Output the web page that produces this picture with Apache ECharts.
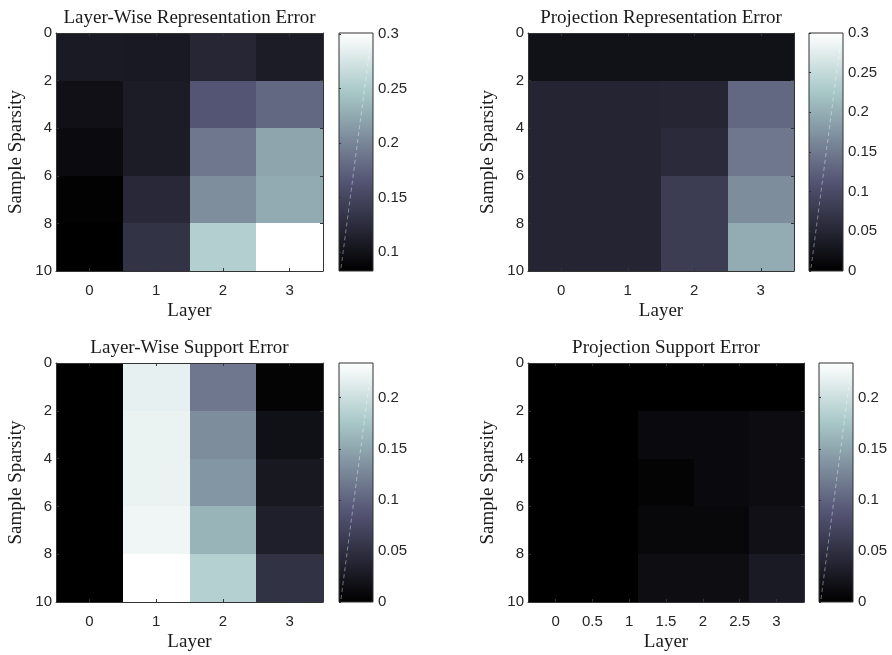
<!DOCTYPE html>
<html><head><meta charset="utf-8">
<script src="https://cdn.jsdelivr.net/npm/echarts@6/dist/echarts.min.js"></script>
<style>html,body{margin:0;padding:0;background:#fff}#c{width:892px;height:655px}</style>
</head><body><div id="c"></div>
<script>
// ---- data ----
const layers = [0, 1, 2, 3];
const projSupportLayers = [0, 0.75, 1.5, 2.25, 3];
const sparsity = [1, 3, 5, 7, 9];
const sparsityTicks = [0, 2, 4, 6, 8, 10];
const layerTicks = [0, 1, 2, 3];
const projSupportLayerTicks = [0, 0.5, 1, 1.5, 2, 2.5, 3];

const layerWiseRepErr = [
  [0.108, 0.107, 0.120, 0.110],
  [0.098, 0.110, 0.165, 0.179],
  [0.093, 0.110, 0.190, 0.222],
  [0.085, 0.122, 0.206, 0.226],
  [0.083, 0.132, 0.254, 0.301]
];
const projectionRepErr = [
  [0.023, 0.023, 0.023, 0.023],
  [0.048, 0.048, 0.050, 0.132],
  [0.048, 0.048, 0.056, 0.147],
  [0.048, 0.048, 0.081, 0.168],
  [0.048, 0.048, 0.081, 0.198]
];
const layerWiseSupErr = [
  [0, 0.218, 0.115, 0.004],
  [0, 0.220, 0.131, 0.017],
  [0, 0.220, 0.138, 0.025],
  [0, 0.224, 0.161, 0.032],
  [0, 0.234, 0.185, 0.052]
];
const projectionSupErr = [
  [0, 0, 0.0005, 0.0005, 0.0005],
  [0, 0, 0.0105, 0.0105, 0.0126],
  [0, 0, 0.0040, 0.0105, 0.0126],
  [0, 0, 0.0084, 0.0084, 0.0168],
  [0, 0, 0.0136, 0.0136, 0.0270]
];
const colorLimits = [[0.0828, 0.301], [0, 0.3], [0, 0.234], [0, 0.234]];
const colorbarTicks = [
  [0.1, 0.15, 0.2, 0.25, 0.3],
  [0, 0.05, 0.1, 0.15, 0.2, 0.25, 0.3],
  [0, 0.05, 0.1, 0.15, 0.2],
  [0, 0.05, 0.1, 0.15, 0.2]
];
const titles = ['Layer-Wise Representation Error', 'Projection Representation Error',
                'Layer-Wise Support Error', 'Projection Support Error'];
const xLabel = 'Layer';
const yLabel = 'Sample Sparsity';

// ---- styles / layout ----
const bone = ['#000000', '#1c1c27', '#38384d', '#545474', '#707a8f', '#8ba1ab', '#a7c7c7', '#d3e3e3', '#ffffff'];
const layout = [
  { grid: { left: 56, top: 33, width: 267, height: 238 }, cb: { left: 339, top: 33, width: 34, height: 238 }, titleTop: 9 },
  { grid: { left: 528, top: 33, width: 266, height: 238 }, cb: { left: 809, top: 33, width: 34, height: 238 }, titleTop: 9 },
  { grid: { left: 56, top: 363, width: 267, height: 239 }, cb: { left: 339, top: 363, width: 34, height: 239 }, titleTop: 339 },
  { grid: { left: 528, top: 363, width: 276, height: 239 }, cb: { left: 819, top: 363, width: 34, height: 239 }, titleTop: 339 }
];
const panels = [
  { xs: layers, xt: layerTicks, vals: layerWiseRepErr },
  { xs: layers, xt: layerTicks, vals: projectionRepErr },
  { xs: layers, xt: layerTicks, vals: layerWiseSupErr },
  { xs: projSupportLayers, xt: projSupportLayerTicks, vals: projectionSupErr }
];

const axisColor = '#333333';
const labelFont = { fontFamily: 'Liberation Sans, Arial, sans-serif', fontSize: 15, color: '#262626' };
const serifFont = { fontFamily: 'Liberation Serif, Times New Roman, serif', fontSize: 19, color: '#1a1a1a' };

function cellRenderer(dx, dy) {
  return function (params, api) {
    const x = api.value(0), y = api.value(1);
    const p0 = api.coord([x - dx / 2, y - dy / 2]);
    const p1 = api.coord([x + dx / 2, y + dy / 2]);
    const x0 = Math.round(Math.min(p0[0], p1[0])), x1 = Math.round(Math.max(p0[0], p1[0]));
    const y0 = Math.round(Math.min(p0[1], p1[1])), y1 = Math.round(Math.max(p0[1], p1[1]));
    return { type: 'rect', shape: { x: x0, y: y0, width: x1 - x0, height: y1 - y0 },
             style: { fill: api.visual('color') } };
  };
}
function colorbarRenderer(params, api) {
  const lo = api.value(0), hi = api.value(1);
  const pTop = api.coord([0, hi]);
  const pBot = api.coord([1, lo]);
  const x = pTop[0], y = pTop[1], w = pBot[0] - pTop[0], h = pBot[1] - pTop[1];
  return { type: 'group', children: [
    { type: 'rect', shape: { x, y, width: w, height: h },
      style: { fill: { type: 'linear', x: 0, y: 1, x2: 0, y2: 0,
        colorStops: bone.map((c, i) => ({ offset: i / (bone.length - 1), color: c })) } } },
    { type: 'line', shape: { x1: x + 2, y1: y + h - 3, x2: x + w - 3, y2: y + h * 0.06 },
      style: { stroke: 'rgba(255,255,255,0.4)', lineWidth: 1, lineDash: [4, 3] } },
    { type: 'rect', shape: { x, y, width: w, height: h },
      style: { fill: null, stroke: axisColor, lineWidth: 1 } }
  ] };
}

const grid = [], xAxis = [], yAxis = [], series = [], visualMap = [], title = [];
panels.forEach((p, i) => {
  const L = layout[i];
  const dx = p.xs[1] - p.xs[0];
  const dy = sparsity[1] - sparsity[0];
  const xmin = p.xs[0] - dx / 2, xmax = p.xs[p.xs.length - 1] + dx / 2;
  const gi = grid.length;
  grid.push(L.grid);
  const cbGi = grid.length;
  grid.push(L.cb);

  title.push({ text: titles[i], left: L.grid.left + L.grid.width / 2, top: L.titleTop, textAlign: 'center', padding: 0,
               textStyle: Object.assign({ fontWeight: 'normal' }, serifFont) });

  const common = { type: 'value', gridIndex: gi, z: 10,
    axisLine: { show: true, onZero: false, lineStyle: { color: axisColor, width: 1 } },
    splitLine: { show: false } };
  const xi = xAxis.length;
  xAxis.push(Object.assign({}, common, { position: 'bottom', min: xmin, max: xmax,
    axisTick: { show: true, inside: true, length: 3, customValues: p.xt, lineStyle: { color: axisColor } },
    axisLabel: Object.assign({ margin: 12, customValues: p.xt }, labelFont),
    name: xLabel, nameLocation: 'middle', nameGap: 31, nameTextStyle: serifFont }));
  xAxis.push(Object.assign({}, common, { position: 'top', min: xmin, max: xmax,
    axisTick: { show: true, inside: true, length: 3, customValues: p.xt, lineStyle: { color: axisColor } },
    axisLabel: { show: false } }));
  const yi = yAxis.length;
  yAxis.push(Object.assign({}, common, { position: 'left', min: sparsityTicks[0], max: sparsityTicks[sparsityTicks.length - 1],
    interval: sparsityTicks[1] - sparsityTicks[0], inverse: true,
    axisTick: { show: true, inside: true, length: 3, lineStyle: { color: axisColor } },
    axisLabel: Object.assign({ margin: 4 }, labelFont),
    name: yLabel, nameLocation: 'middle', nameGap: 30, nameRotate: 90, nameTextStyle: serifFont }));
  yAxis.push(Object.assign({}, common, { position: 'right', min: sparsityTicks[0], max: sparsityTicks[sparsityTicks.length - 1],
    interval: sparsityTicks[1] - sparsityTicks[0], inverse: true,
    axisTick: { show: true, inside: true, length: 3, lineStyle: { color: axisColor } },
    axisLabel: { show: false } }));

  // colorbar axes
  const cxi = xAxis.length;
  xAxis.push({ type: 'value', gridIndex: cbGi, min: 0, max: 1, show: false });
  const cyi = yAxis.length;
  yAxis.push({ type: 'value', gridIndex: cbGi, position: 'right', min: colorLimits[i][0], max: colorLimits[i][1], z: 10,
    axisLine: { show: false }, splitLine: { show: false },
    axisTick: { show: true, inside: false, length: 2, customValues: colorbarTicks[i], lineStyle: { color: axisColor } },
    axisLabel: Object.assign({ margin: 5, customValues: colorbarTicks[i] }, labelFont) });

  const data = [];
  p.vals.forEach((row, r) => row.forEach((v, c) => data.push([p.xs[c], sparsity[r], v])));
  const si = series.length;
  series.push({ type: 'custom', xAxisIndex: xi, yAxisIndex: yi, renderItem: cellRenderer(dx, dy),
                encode: { x: 0, y: 1 }, data: data, silent: true, clip: false });
  series.push({ type: 'custom', xAxisIndex: cxi, yAxisIndex: cyi, renderItem: colorbarRenderer,
                data: [[colorLimits[i][0], colorLimits[i][1]]], silent: true });
  visualMap.push({ type: 'continuous', show: false, seriesIndex: si, dimension: 2,
                   min: colorLimits[i][0], max: colorLimits[i][1], inRange: { color: bone } });
});

const chart = echarts.init(document.getElementById('c'), null, { renderer: 'canvas' });
chart.setOption({ animation: false, backgroundColor: '#ffffff', title, grid, xAxis, yAxis, series, visualMap });
</script>
</body></html>
